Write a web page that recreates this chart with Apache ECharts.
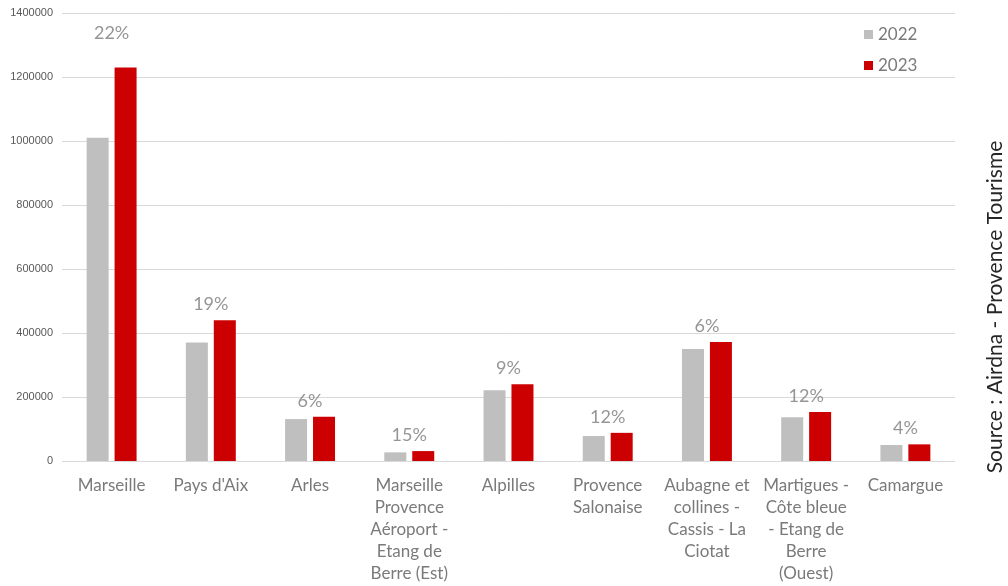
<!DOCTYPE html>
<html>
<head>
<meta charset="utf-8">
<style>
  html, body { margin: 0; padding: 0; background: #fff; }
  #chart { width: 1008px; height: 586px; }
</style>
<script src="https://cdn.jsdelivr.net/npm/echarts@6/dist/echarts.min.js"></script>
</head>
<body>
<div id="chart"></div>
<script>
// Territories (line breaks as they wrap under the axis)
const categories = [
  'Marseille',
  "Pays d'Aix",
  'Arles',
  'Marseille\nProvence\nAéroport -\nEtang de\nBerre (Est)',
  'Alpilles',
  'Provence\nSalonaise',
  'Aubagne et\ncollines -\nCassis - La\nCiotat',
  'Martigues -\nCôte bleue\n- Etang de\nBerre\n(Ouest)',
  'Camargue'
];
const values2022 = [1010000, 370000, 131000, 27000, 221000, 78000, 350000, 137000, 50000];
const values2023 = [1230000, 440000, 138000, 31000, 240000, 88000, 372000, 153000, 52000];
const growthLabels = ['22%', '19%', '6%', '15%', '9%', '12%', '6%', '12%', '4%'];
const yTicks = { min: 0, max: 1400000, interval: 200000 };

const FONT = 'Lato, "Open Sans", sans-serif';
const GREY = '#bfbfbf';
const RED = '#cc0000';
const TEXT = '#7a7a7a';

const chart = echarts.init(document.getElementById('chart'), null, { renderer: 'canvas' });

// Growth labels sit centred over each pair of bars, just above the taller one
const growthPoints = values2023.map((v, i) => {
  const p = { value: v, label: { formatter: growthLabels[i] } };
  if (i === 0) p.label.offset = [0, -18];
  return p;
});

chart.setOption({
  animation: false,
  textStyle: { fontFamily: FONT },
  grid: { left: 62, right: 53, top: 13, bottom: 125, containLabel: false },
  legend: {
    orient: 'vertical',
    left: 859,
    top: 21,
    itemWidth: 9,
    itemHeight: 9,
    itemGap: 14,
    icon: 'rect',
    textStyle: { color: TEXT, fontSize: 17, fontFamily: FONT },
    data: ['2022', '2023']
  },
  xAxis: {
    type: 'category',
    data: categories,
    axisLine: { show: false },
    axisTick: { show: false },
    axisLabel: {
      interval: 0,
      color: TEXT,
      fontSize: 17,
      lineHeight: 22,
      margin: 14,
      fontFamily: FONT
    }
  },
  yAxis: {
    type: 'value',
    min: yTicks.min,
    max: yTicks.max,
    interval: yTicks.interval,
    axisLine: { show: false },
    axisTick: { show: false },
    splitLine: { lineStyle: { color: '#d9d9d9', width: 1 } },
    axisLabel: {
      color: '#595959',
      fontSize: 11,
      margin: 9,
      fontFamily: 'Liberation Sans, Arial, sans-serif',
      formatter: v => String(v)
    }
  },
  series: [
    {
      name: '2022',
      type: 'bar',
      data: values2022,
      barWidth: 22,
      barGap: '27%',
      itemStyle: { color: GREY }
    },
    {
      name: '2023',
      type: 'bar',
      data: values2023,
      barWidth: 22,
      itemStyle: { color: RED }
    },
    {
      name: 'growth',
      type: 'scatter',
      data: growthPoints,
      symbolSize: 0,
      silent: true,
      z: 5,
      label: {
        show: true,
        position: 'top',
        distance: 7,
        color: TEXT,
        fontSize: 18,
        fontFamily: FONT
      }
    }
  ],
  graphic: [
    {
      type: 'text',
      x: 995,
      y: 307,
      rotation: Math.PI / 2,
      style: {
        text: 'Source : Airdna - Provence Tourisme',
        fill: '#262626',
        fontSize: 21,
        fontFamily: FONT,
        textAlign: 'center',
        textVerticalAlign: 'middle'
      }
    }
  ]
});
</script>
</body>
</html>
